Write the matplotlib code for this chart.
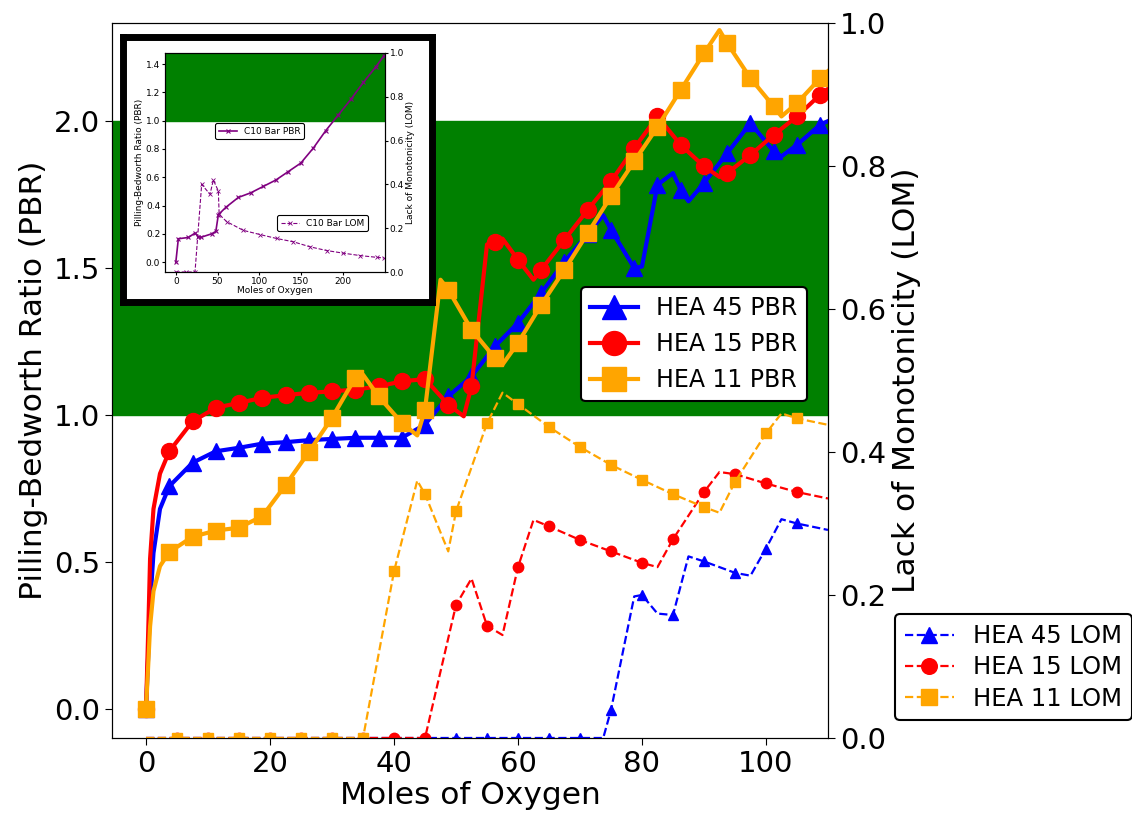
import numpy as np
import matplotlib
matplotlib.use('Agg')
import matplotlib.pyplot as plt

# ---- main plot data: PBR (left axis) ----
x_45_pbr = [0, 0.4, 0.65, 1.2, 2.25, 3.75, 7.5, 11.25, 15, 18.75, 22.5, 26.25, 30, 33.75, 37.5, 41.25, 45,
            48.75, 52.5, 56.25, 60, 63.75, 67.5, 71.25, 73.75, 75, 78.75, 80, 82.5, 85, 86.25, 87.5, 90,
            93.75, 97.5, 101.25, 102.5, 105, 108.75, 110]
pbr_45 = [0, 0.21, 0.35, 0.53, 0.68, 0.757, 0.837, 0.876, 0.888, 0.902, 0.907, 0.914, 0.918, 0.922, 0.922, 0.922, 0.967,
          1.063, 1.131, 1.233, 1.313, 1.415, 1.522, 1.615, 1.68, 1.63, 1.50, 1.505, 1.783, 1.823, 1.766, 1.727, 1.789,
          1.891, 1.993, 1.897, 1.88, 1.919, 1.988, 2.0]

x_15_pbr = [0, 0.4, 0.65, 1.2, 2.25, 3.75, 7.5, 11.25, 15, 18.75, 22.5, 26.25, 30, 33.75, 37.5, 41.25, 45,
            48.75, 51.25, 52.5, 55, 56.25, 57.5, 60, 62.5, 63.75, 67.5, 71.25, 75, 78.75, 82.5, 86.25, 90,
            92.5, 93.75, 97.5, 101.25, 105, 108.75, 110]
pbr_15 = [0, 0.30, 0.51, 0.68, 0.80, 0.876, 0.978, 1.024, 1.041, 1.058, 1.067, 1.075, 1.080, 1.086, 1.097, 1.114, 1.122,
          1.035, 0.995, 1.097, 1.58, 1.59, 1.60, 1.528, 1.46, 1.494, 1.596, 1.698, 1.795, 1.908, 2.016, 1.919, 1.846,
          1.81, 1.823, 1.885, 1.953, 2.016, 2.09, 2.11]

x_11_pbr = [0, 0.4, 0.65, 1.2, 2.25, 3.75, 7.5, 11.25, 15, 18.75, 22.5, 26.25, 30, 33.75, 35, 37.5, 41.25, 43.75, 45,
            47.5, 48.75, 52.5, 56.25, 57.5, 60, 63.75, 67.5, 71.25, 75, 78.75, 82.5, 86.25, 90, 92.5, 93.75,
            97.5, 101.25, 102.5, 105, 108.75, 110]
pbr_11 = [0, 0.17, 0.28, 0.40, 0.485, 0.533, 0.585, 0.606, 0.616, 0.655, 0.761, 0.873, 0.99, 1.126, 1.137, 1.063, 0.973, 0.93, 1.018,
          1.46, 1.426, 1.29, 1.194, 1.171, 1.245, 1.375, 1.494, 1.619, 1.744, 1.863, 1.98, 2.106, 2.231, 2.31, 2.265,
          2.146, 2.05, 2.016, 2.061, 2.146, 2.17]

# ---- main plot data: LOM (right axis) ----
x_45_lom = [0, 5, 10, 15, 20, 25, 30, 35, 40, 45, 50, 55, 60, 65, 70, 73.75, 75, 78.75, 80, 82.5, 85, 87.5, 90,
            95, 97.5, 100, 102.5, 105, 110]
lom_45 = [0, 0, 0, 0, 0, 0, 0, 0, 0, 0, 0, 0, 0, 0, 0, 0, 0.039, 0.198, 0.2, 0.174, 0.172, 0.254, 0.247,
          0.231, 0.227, 0.265, 0.306, 0.3, 0.291]

x_15_lom = [0, 5, 10, 15, 20, 25, 30, 35, 40, 45, 50, 52.5, 55, 57.5, 60, 62.5, 65, 70, 75, 80, 82.5, 85, 90,
            92.5, 95, 100, 105, 110]
lom_15 = [0, 0, 0, 0, 0, 0, 0, 0, 0, 0, 0.186, 0.223, 0.157, 0.144, 0.239, 0.305, 0.296, 0.277, 0.261, 0.245, 0.239, 0.278, 0.344,
          0.372, 0.369, 0.356, 0.344, 0.335]

x_11_lom = [0, 5, 10, 15, 20, 25, 30, 35, 40, 43.75, 45, 48.75, 50, 55, 57.5, 60, 65, 70, 75, 80, 85, 90,
            92.5, 95, 100, 102.5, 105, 110]
lom_11 = [0, 0, 0, 0, 0, 0, 0, 0, 0.233, 0.36, 0.341, 0.261, 0.317, 0.44, 0.483, 0.467, 0.435, 0.407, 0.382, 0.361, 0.341, 0.323,
          0.315, 0.358, 0.426, 0.454, 0.447, 0.438]

# ---- inset data (C10 bar) ----
c10_x_pbr = [0, 3, 15, 23, 27, 30, 43, 48, 51, 60, 75, 90, 105, 120, 135, 150, 165, 180, 195, 210, 225, 240, 250]
c10_pbr = [0, 0.165, 0.174, 0.205, 0.18, 0.175, 0.2, 0.217, 0.335, 0.387, 0.457, 0.49, 0.535, 0.58, 0.64, 0.70, 0.806,
           0.93, 1.04, 1.15, 1.27, 1.38, 1.46]
c10_x_lom = [0, 12, 23, 31, 41, 45, 51, 52, 61, 81, 101, 121, 141, 161, 181, 201, 221, 241, 250]
c10_lom = [0, 0, 0, 0.40, 0.355, 0.42, 0.37, 0.263, 0.23, 0.19, 0.171, 0.153, 0.138, 0.115, 0.098, 0.086, 0.075, 0.067, 0.064]


def pbr_marks(x):
    x = np.asarray(x, dtype=float)
    r = np.mod(x, 3.75)
    return list(np.isclose(r, 0) | np.isclose(r, 3.75))


def lom_marks(x):
    x = np.asarray(x, dtype=float)
    return list(np.isclose(np.mod(x, 5), 0) & (x > 0) & (x < 110))


fig = plt.figure(figsize=(11.32, 8.16), dpi=100)
ax = fig.add_axes([0.0989, 0.0956, 0.6325, 0.8762])
ax2 = ax.twinx()

ax.axhspan(1.0, 2.0, color='green', zorder=0)

ms = 11.5
ax.plot(x_45_pbr, pbr_45, '-^', color='blue', lw=3, ms=ms, markevery=pbr_marks(x_45_pbr), label='HEA 45 PBR')
ax.plot(x_15_pbr, pbr_15, '-o', color='red', lw=3, ms=ms, markevery=pbr_marks(x_15_pbr), label='HEA 15 PBR')
ax.plot(x_11_pbr, pbr_11, '-s', color='orange', lw=3, ms=ms, markevery=pbr_marks(x_11_pbr), label='HEA 11 PBR')

ax2.plot(x_45_lom, lom_45, '--^', color='blue', lw=1.6, ms=7.5, markevery=lom_marks(x_45_lom), label='HEA 45 LOM')
ax2.plot(x_15_lom, lom_15, '--o', color='red', lw=1.6, ms=7.5, markevery=lom_marks(x_15_lom), label='HEA 15 LOM')
ax2.plot(x_11_lom, lom_11, '--s', color='orange', lw=1.6, ms=7.5, markevery=lom_marks(x_11_lom), label='HEA 11 LOM')

ax.set_xlim(-5.5, 110)
ax.set_ylim(-0.1, 2.334)
ax2.set_ylim(0, 1.0)
ax.set_xticks([0, 20, 40, 60, 80, 100])
ax.set_yticks([0.0, 0.5, 1.0, 1.5, 2.0])
ax2.set_yticks([0.0, 0.2, 0.4, 0.6, 0.8, 1.0])
ax.tick_params(labelsize=21, length=5)
ax2.tick_params(labelsize=21, length=5)
ax.set_xlabel('Moles of Oxygen', fontsize=22.5, labelpad=2)
ax.set_ylabel('Pilling-Bedworth Ratio (PBR)', fontsize=22.5)
ax2.set_ylabel('Lack of Monotonicity (LOM)', fontsize=22.5)

leg1 = ax.legend(loc='upper right', bbox_to_anchor=(0.971, 0.631), borderaxespad=0, fontsize=17,
                 markerscale=1.5, framealpha=1, edgecolor='black')
leg1.get_frame().set_linewidth(1.5)
leg2 = ax2.legend(loc='upper left', bbox_to_anchor=(1.094, 0.173), borderaxespad=0, fontsize=17.5,
                  markerscale=1.5, framealpha=1, edgecolor='black', labelspacing=0.3)
leg2.get_frame().set_linewidth(1.5)

# ---- inset: black frame and small C10 plot ----
frame = fig.add_axes([123 / 1132, (816 - 302) / 816, 309 / 1132, 265 / 816])
frame.set_xticks([])
frame.set_yticks([])
frame.set_facecolor('white')
for s in frame.spines.values():
    s.set_linewidth(5)
    s.set_color('black')

ins = fig.add_axes([165 / 1132, (816 - 272) / 816, 220 / 1132, 219 / 816])
ins2 = ins.twinx()
ins.axhspan(1.0, 2.0, color='green', zorder=0)
ins.plot(c10_x_pbr, c10_pbr, '-x', color='purple', lw=1.2, ms=3.5, mew=0.8, label='C10 Bar PBR')
ins2.plot(c10_x_lom, c10_lom, '--x', color='purple', lw=0.8, ms=3.5, mew=0.6, label='C10 Bar LOM')
ins.set_xlim(-13, 251)
ins.set_ylim(-0.07, 1.478)
ins2.set_ylim(0, 1.0)
ins.set_xticks([0, 50, 100, 150, 200])
ins.set_yticks([0.0, 0.2, 0.4, 0.6, 0.8, 1.0, 1.2, 1.4])
ins2.set_yticks([0.0, 0.2, 0.4, 0.6, 0.8, 1.0])
ins.tick_params(labelsize=6.5, length=2, pad=1.5)
ins2.tick_params(labelsize=6.5, length=2, pad=1.5)
ins.set_xlabel('Moles of Oxygen', fontsize=6.5, labelpad=0)
ins.set_ylabel('Pilling-Bedworth Ratio (PBR)', fontsize=6.5, labelpad=1)
ins2.set_ylabel('Lack of Monotonicity (LOM)', fontsize=6.5, labelpad=1)
l1 = ins.legend(loc='upper left', bbox_to_anchor=(0.227, 0.68), borderaxespad=0, fontsize=6.5,
                framealpha=1, edgecolor='black')
l1.get_frame().set_linewidth(0.8)
l2 = ins2.legend(loc='upper left', bbox_to_anchor=(0.509, 0.26), borderaxespad=0, fontsize=6.5,
                 framealpha=1, edgecolor='black')
l2.get_frame().set_linewidth(0.8)

fig.savefig('out.png', dpi=100)
